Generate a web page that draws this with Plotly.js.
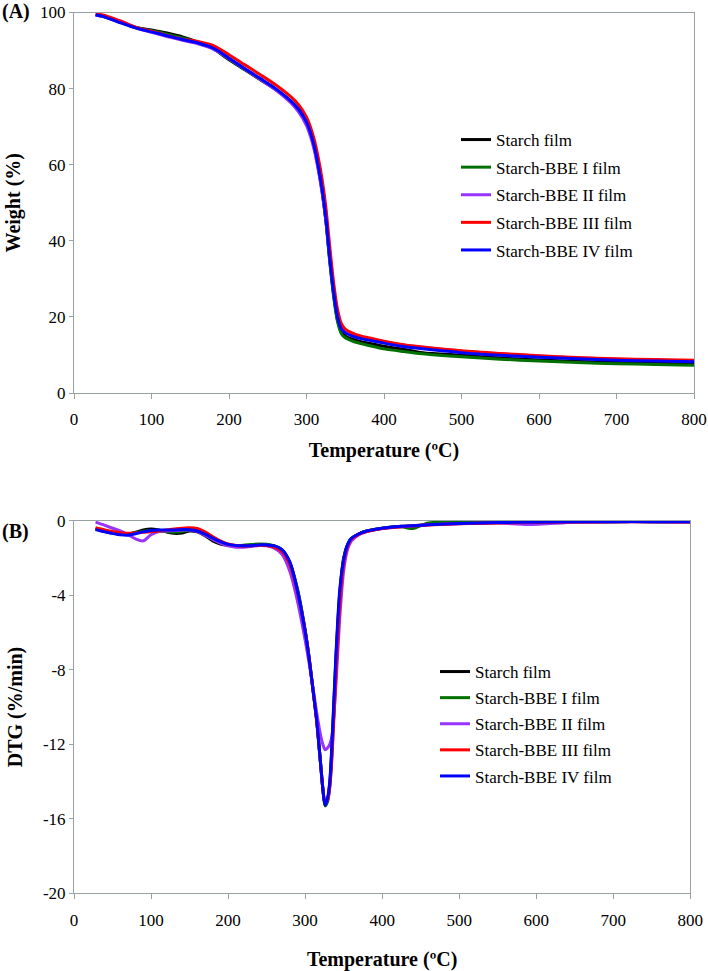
<!DOCTYPE html>
<html>
<head>
<meta charset="utf-8">
<script src="https://cdn.plot.ly/plotly-3.0.1.min.js"></script>
<style>html,body{margin:0;padding:0;background:#fff;}#chart{width:708px;height:971px;}</style>
</head>
<body>
<div id="chart"></div>
<script>
// ---------- DATA ----------
var seriesNames = ["Starch film", "Starch-BBE I film", "Starch-BBE II film", "Starch-BBE III film", "Starch-BBE IV film"];
var seriesColors = ["#000000", "#007000", "#9933ff", "#ff0000", "#0000ff"];

// (A) TGA: temperature (ºC) and weight (%)
var tgaTemp = [28, 40, 60, 80, 100, 120, 140, 160, 180, 200, 220, 240, 260, 280, 290, 300, 305, 310, 315, 320, 325, 330, 335, 340, 345, 350, 360, 370, 380, 400, 425, 450, 500, 550, 600, 650, 700, 750, 800];
var tgaStarch = [99.5, 98.9, 97.5, 96.1, 95.4, 94.6, 93.6, 92.2, 90.4, 87.6, 85.0, 82.4, 79.8, 76.6, 74.4, 71.0, 68.3, 64.5, 59.4, 53.2, 45.3, 34.8, 25.8, 19.2, 16.0, 15.0, 14.1, 13.5, 13.1, 12.3, 11.5, 10.6, 9.9, 9.2, 8.7, 8.3, 8.0, 7.8, 7.6];
var tgaBBE1 = [99.4, 98.8, 97.4, 96.0, 95.2, 94.3, 93.3, 92.1, 90.5, 87.8, 85.1, 82.5, 79.9, 76.6, 74.4, 71.0, 68.3, 64.5, 59.5, 53.3, 45.3, 34.6, 25.4, 18.8, 15.6, 14.5, 13.6, 13.0, 12.5, 11.6, 10.9, 10.3, 9.5, 8.9, 8.4, 8.0, 7.7, 7.5, 7.3];
var tgaBBE2 = [99.3, 98.9, 97.8, 96.0, 94.8, 93.7, 92.7, 91.8, 90.4, 87.9, 85.2, 82.5, 79.7, 76.2, 73.8, 70.3, 67.5, 63.8, 58.8, 52.8, 45.3, 35.5, 27.0, 21.0, 17.8, 16.5, 15.4, 14.8, 14.3, 13.5, 12.6, 12.0, 11.0, 10.3, 9.7, 9.2, 8.9, 8.6, 8.4];
var tgaBBE3 = [99.8, 99.2, 97.7, 96.1, 95.1, 94.0, 93.0, 92.4, 91.3, 88.9, 86.3, 83.7, 81.0, 77.8, 75.7, 72.5, 70.0, 66.6, 62.0, 56.3, 48.8, 38.5, 29.0, 22.0, 18.2, 16.8, 15.7, 15.0, 14.5, 13.6, 12.7, 12.1, 11.1, 10.4, 9.8, 9.3, 9.0, 8.8, 8.6];
var tgaBBE4 = [99.4, 98.8, 97.3, 95.9, 94.9, 93.9, 92.9, 92.0, 90.6, 88.0, 85.3, 82.7, 80.0, 76.7, 74.5, 71.2, 68.5, 64.8, 59.8, 53.8, 46.0, 35.5, 26.5, 20.0, 16.8, 15.8, 14.9, 14.3, 13.9, 13.1, 12.2, 11.6, 10.6, 9.9, 9.4, 9.0, 8.6, 8.4, 8.2];

// (B) DTG: temperature (ºC) and DTG (%/min)
var dtgTemp = [28, 40, 60, 70, 80, 90, 100, 110, 120, 130, 140, 150, 160, 170, 180, 190, 200, 210, 220, 230, 240, 250, 260, 270, 280, 290, 300, 305, 310, 315, 320, 323, 326, 329, 332, 335, 340, 345, 350, 355, 360, 370, 380, 400, 425, 440, 460, 500, 550, 590, 650, 700, 750, 800];
var dtgStarch = [-0.45, -0.58, -0.72, -0.72, -0.62, -0.5, -0.45, -0.5, -0.6, -0.68, -0.66, -0.55, -0.6, -0.8, -1.08, -1.25, -1.33, -1.35, -1.35, -1.33, -1.3, -1.3, -1.36, -1.58, -2.25, -3.7, -5.9, -7.3, -9.0, -10.7, -13.0, -14.4, -15.3, -15.0, -14.1, -12.0, -7.4, -3.9, -2.0, -1.3, -0.95, -0.7, -0.55, -0.4, -0.3, -0.27, -0.2, -0.14, -0.1, -0.08, -0.06, -0.05, -0.05, -0.06];
var dtgBBE1 = [-0.4, -0.52, -0.68, -0.7, -0.65, -0.57, -0.52, -0.55, -0.6, -0.62, -0.58, -0.5, -0.55, -0.75, -1.0, -1.18, -1.3, -1.33, -1.32, -1.28, -1.25, -1.27, -1.35, -1.56, -2.22, -3.65, -5.85, -7.3, -9.0, -10.7, -13.0, -14.4, -15.3, -15.1, -14.3, -12.4, -7.8, -4.1, -2.1, -1.3, -0.95, -0.7, -0.55, -0.4, -0.33, -0.42, -0.12, -0.1, -0.08, -0.07, -0.06, -0.05, -0.05, -0.06];
var dtgBBE2 = [-0.08, -0.25, -0.55, -0.75, -0.98, -1.08, -0.75, -0.58, -0.55, -0.52, -0.5, -0.5, -0.58, -0.78, -1.0, -1.2, -1.35, -1.42, -1.42, -1.38, -1.33, -1.35, -1.48, -1.8, -2.7, -4.3, -6.4, -7.6, -8.9, -10.3, -11.5, -12.0, -12.3, -12.2, -12.0, -11.5, -8.8, -5.2, -2.7, -1.55, -1.1, -0.75, -0.58, -0.42, -0.32, -0.28, -0.22, -0.16, -0.12, -0.2, -0.08, -0.06, -0.06, -0.07];
var dtgBBE3 = [-0.38, -0.5, -0.65, -0.68, -0.66, -0.62, -0.59, -0.55, -0.5, -0.45, -0.4, -0.38, -0.42, -0.6, -0.85, -1.08, -1.25, -1.33, -1.36, -1.35, -1.32, -1.33, -1.42, -1.65, -2.35, -3.8, -5.9, -7.3, -9.0, -10.8, -13.0, -14.3, -15.1, -15.0, -14.3, -12.6, -8.3, -4.5, -2.3, -1.4, -1.0, -0.72, -0.58, -0.42, -0.32, -0.28, -0.23, -0.16, -0.12, -0.1, -0.07, -0.06, -0.06, -0.07];
var dtgBBE4 = [-0.48, -0.6, -0.76, -0.78, -0.7, -0.6, -0.52, -0.5, -0.5, -0.5, -0.48, -0.48, -0.55, -0.72, -0.93, -1.12, -1.27, -1.33, -1.35, -1.34, -1.3, -1.3, -1.35, -1.55, -2.2, -3.75, -5.95, -7.35, -9.0, -10.7, -13.0, -14.4, -15.26, -14.9, -14.0, -11.8, -7.2, -3.7, -2.1, -1.3, -0.95, -0.7, -0.55, -0.4, -0.3, -0.27, -0.22, -0.15, -0.1, -0.08, -0.06, -0.05, -0.05, -0.06];

var xTickVals = [0, 100, 200, 300, 400, 500, 600, 700, 800];
var xTickText = ["0", "100", "200", "300", "400", "500", "600", "700", "800"];
var tgaTickVals = [0, 20, 40, 60, 80, 100];
var tgaTickText = ["0", "20", "40", "60", "80", "100"];
var dtgTickVals = [-20, -16, -12, -8, -4, 0];
var dtgTickText = ["-20", "-16", "-12", "-8", "-4", "0"];

// ---------- BUILD ----------
var FONT = "Liberation Serif";
var tgaY = [tgaStarch, tgaBBE1, tgaBBE2, tgaBBE3, tgaBBE4];
var dtgY = [dtgStarch, dtgBBE1, dtgBBE2, dtgBBE3, dtgBBE4];
var traces = [];
for (var i = 0; i < seriesNames.length; i++) {
  traces.push({
    x: tgaTemp, y: tgaY[i], name: seriesNames[i], type: "scatter", mode: "lines",
    line: {color: seriesColors[i], width: 3, shape: "spline", smoothing: 0.8},
    xaxis: "x", yaxis: "y", legend: "legend", legendgroup: "a" + i
  });
}
for (var j = 0; j < seriesNames.length; j++) {
  traces.push({
    x: dtgTemp, y: dtgY[j], name: seriesNames[j], type: "scatter", mode: "lines",
    line: {color: seriesColors[j], width: 3, shape: "spline", smoothing: 0.8},
    xaxis: "x2", yaxis: "y2", legend: "legend2", legendgroup: "b" + j
  });
}

var AXC = "#98a2a2";
function xax(domain, anchor, standoff) {
  return {
    domain: domain, anchor: anchor, range: [0, 800], tickmode: "array",
    tickvals: xTickVals, ticktext: xTickText,
    showgrid: false, zeroline: false, showline: true, linecolor: AXC, linewidth: 1, mirror: true,
    ticks: "outside", ticklen: 5, tickcolor: AXC, tickwidth: 1, ticklabelstandoff: 6,
    tickfont: {family: FONT, size: 17, color: "#000"},
    title: {text: "<b>Temperature (ºC)</b>", font: {family: FONT, size: 20, color: "#000"}, standoff: standoff}
  };
}
function yax(domain, anchor, range, tv, tt, title) {
  return {
    domain: domain, anchor: anchor, range: range, tickmode: "array",
    tickvals: tv, ticktext: tt,
    showgrid: false, zeroline: false, showline: true, linecolor: AXC, linewidth: 1, mirror: true,
    ticks: "outside", ticklen: 4, tickcolor: AXC, tickwidth: 1,
    tickfont: {family: FONT, size: 17, color: "#000"},
    title: {text: "<b>" + title + "</b>", font: {family: FONT, size: 20, color: "#000"}, standoff: 14}
  };
}

var layout = {
  width: 708, height: 971,
  margin: {l: 0, r: 0, t: 0, b: 0},
  paper_bgcolor: "#fff", plot_bgcolor: "#fff",
  font: {family: FONT, color: "#000"},
  xaxis: xax([74/708, 694/708], "y", 14),
  yaxis: yax([1 - 393/971, 1 - 12.5/971], "x", [0, 100], tgaTickVals, tgaTickText, "Weight (%)"),
  xaxis2: xax([74/708, 690.3/708], "y2", 24),
  yaxis2: yax([1 - 893.3/971, 1 - 520.7/971], "x2", [-20, 0], dtgTickVals, dtgTickText, "DTG (%/min)"),
  legend: {x: 456/708, y: 1 - 122/971, xanchor: "left", yanchor: "top",
    font: {family: FONT, size: 17, color: "#000"}, bgcolor: "rgba(0,0,0,0)", tracegroupgap: 2.5},
  legend2: {x: 435/708, y: 1 - 654/971, xanchor: "left", yanchor: "top",
    font: {family: FONT, size: 17, color: "#000"}, bgcolor: "rgba(0,0,0,0)", tracegroupgap: 1},
  annotations: [
    {text: "<b>(A)</b>", xref: "paper", yref: "paper", x: 0, y: 1 - 12/971, xanchor: "left", yanchor: "middle",
     showarrow: false, font: {family: FONT, size: 20, color: "#000"}},
    {text: "<b>(B)</b>", xref: "paper", yref: "paper", x: 0, y: 1 - 531/971, xanchor: "left", yanchor: "middle",
     showarrow: false, font: {family: FONT, size: 20, color: "#000"}}
  ],
  showlegend: true
};

Plotly.newPlot("chart", traces, layout, {displayModeBar: false, staticPlot: true});
</script>
</body>
</html>
